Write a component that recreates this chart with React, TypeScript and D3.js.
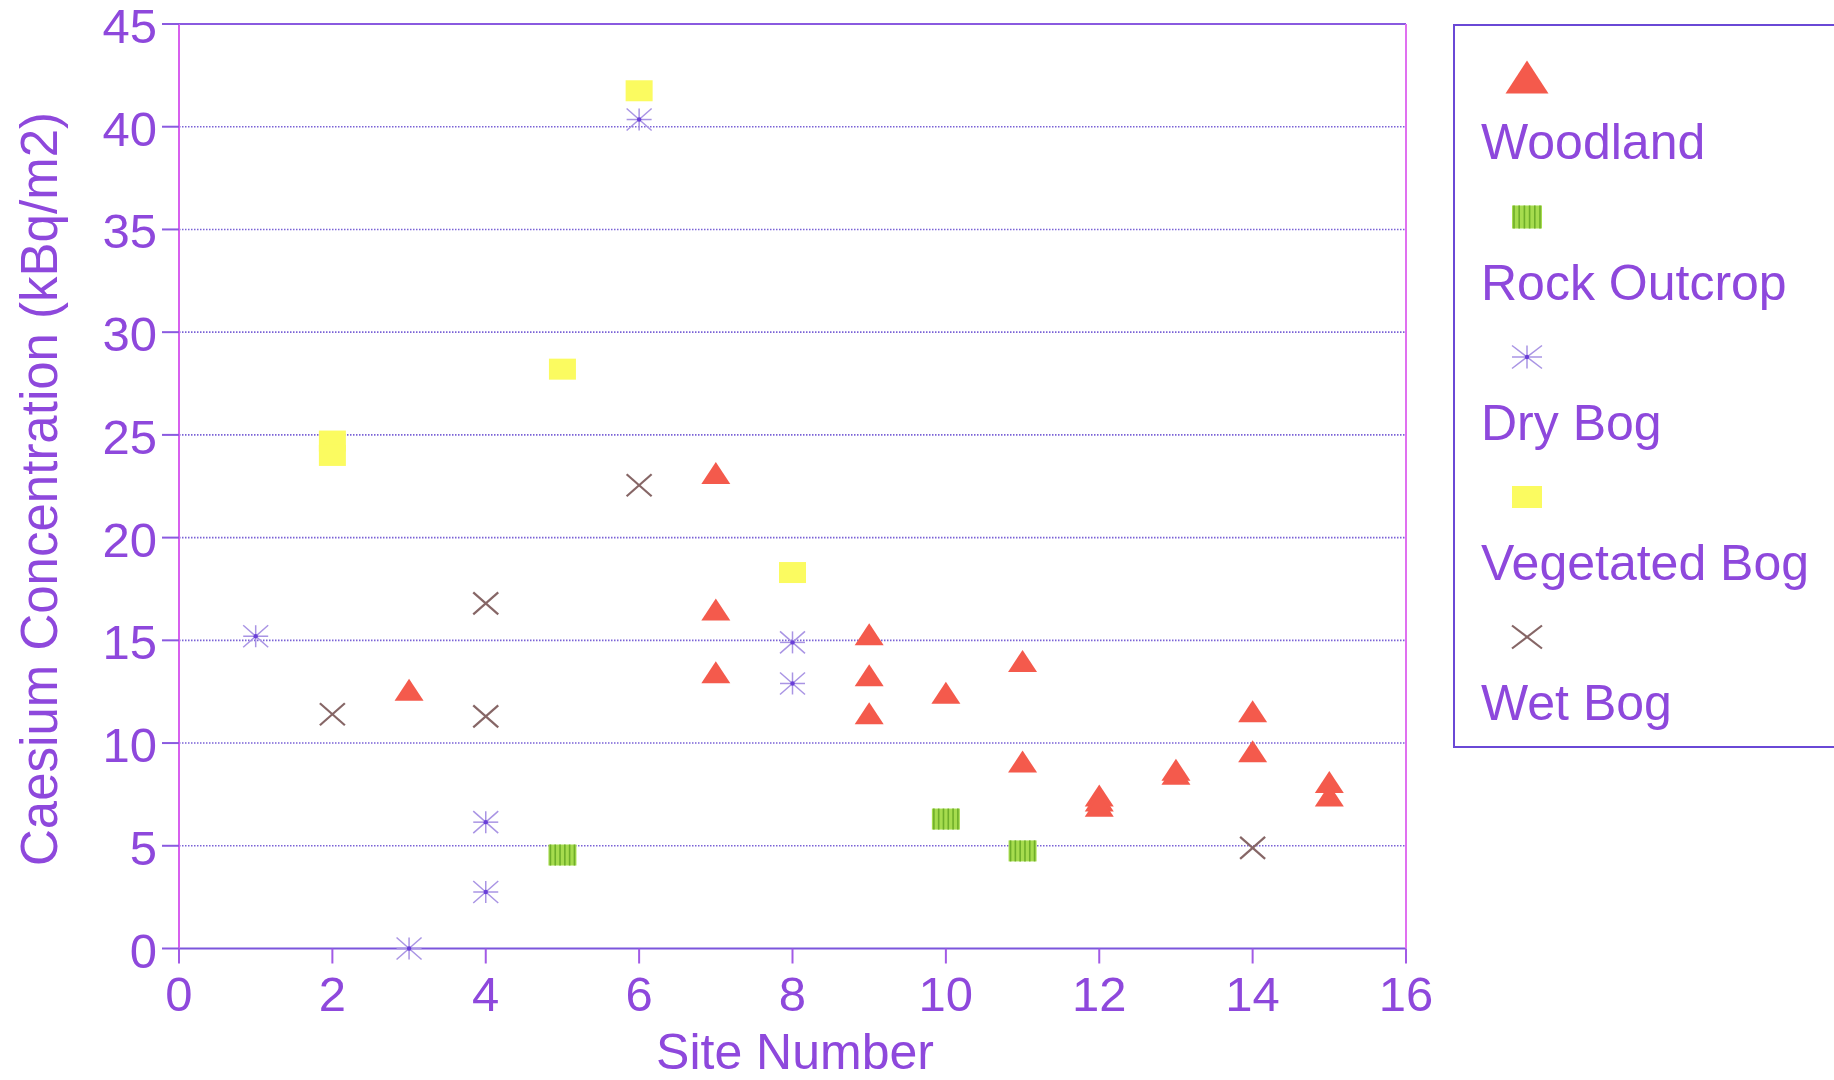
// @ts-nocheck

import React from 'react'
import * as d3 from 'd3'

// values: [site, concentration]
const woodland = [
  [3, 12.6],
  [7, 23.15], [7, 16.5], [7, 13.45],
  [9, 15.3], [9, 13.3], [9, 11.45],
  [10, 12.45],
  [11, 14.0], [11, 9.1],
  [12, 7.45], [12, 7.2], [12, 6.95],
  [13, 8.7], [13, 8.5],
  [14, 11.55], [14, 9.6],
  [15, 8.1], [15, 7.45],
]
const rockOutcrop = [[5, 4.55], [10, 6.3], [11, 4.75]]
const dryBog = [[1, 15.2], [3, 0], [4, 6.15], [4, 2.75], [6, 40.35], [8, 14.9], [8, 12.9]]
const vegetatedBog = [[2, 24.7], [2, 24.0], [5, 28.2], [6, 41.75], [8, 18.3]]
const wetBog = [[2, 11.4], [4, 16.8], [4, 11.3], [6, 22.55], [14, 4.9]]

const legendLabels = ['Woodland', 'Rock Outcrop', 'Dry Bog', 'Vegetated Bog', 'Wet Bog']
const xTicks = [0, 2, 4, 6, 8, 10, 12, 14, 16]
const yTicks = [0, 5, 10, 15, 20, 25, 30, 35, 40, 45]

const TEXT = '#8e48dc'
const FONT = '"Liberation Sans", Arial, Helvetica, sans-serif'

const Triangle = ({ x, y, w = 29, h = 22 }) => (
  <path d={`M${x},${y - h / 2}L${x + w / 2},${y + h / 2}L${x - w / 2},${y + h / 2}Z`} fill="#f45a4c" />
)

const Striped = ({ x, y, w = 28, h = 21 }) => {
  const stripes = d3.range(6).map((i) => x - w / 2 + 2 + i * ((w - 4) / 5))
  return (
    <g>
      <rect x={x - w / 2} y={y - h / 2} width={w} height={h} fill="#a6dc4e" />
      {stripes.map((sx, i) => (
        <line key={i} x1={sx} x2={sx} y1={y - h / 2} y2={y + h / 2} stroke="#6fae2a" strokeWidth={1.6} />
      ))}
    </g>
  )
}

const Star = ({ x, y, w = 25, h = 22 }) => (
  <g stroke="#a994e4" strokeWidth={1.5}>
    <line x1={x - w / 2} x2={x + w / 2} y1={y} y2={y} />
    <line x1={x} x2={x} y1={y - h / 2} y2={y + h / 2} />
    <line x1={x - w / 2} x2={x + w / 2} y1={y - h / 2} y2={y + h / 2} />
    <line x1={x - w / 2} x2={x + w / 2} y1={y + h / 2} y2={y - h / 2} />
    <circle cx={x} cy={y} r={2.2} fill="#6a3fd8" stroke="none" />
  </g>
)

const Square = ({ x, y, w = 27, h = 21 }) => (
  <rect x={x - w / 2} y={y - h / 2} width={w} height={h} fill="#fbfb60" />
)

const Cross = ({ x, y, w = 25, h = 22 }) => (
  <g stroke="#866666" strokeWidth={2.2}>
    <line x1={x - w / 2} x2={x + w / 2} y1={y - h / 2} y2={y + h / 2} />
    <line x1={x - w / 2} x2={x + w / 2} y1={y + h / 2} y2={y - h / 2} />
  </g>
)

const App = () => {
  const width = 1834
  const height = 1080
  const left = 179
  const right = 1406
  const top = 24
  const bottom = 948.5

  const xScale = d3.scaleLinear().domain([0, 16]).range([left, right])
  const yScale = d3.scaleLinear().domain([0, 45]).range([bottom, top])

  const legendX = 1454
  const legendMarkX = 1527
  const legendMarkY = [77, 217, 357, 497, 637]
  const legendTextY = [159, 300, 440, 580, 720]
  const legendMarks = [
    (y) => <Triangle x={legendMarkX} y={y} w={43} h={33} />,
    (y) => <Striped x={legendMarkX} y={y} w={30} h={23} />,
    (y) => <Star x={legendMarkX} y={y} w={30} h={23} />,
    (y) => <Square x={legendMarkX} y={y} w={30} h={22} />,
    (y) => <Cross x={legendMarkX} y={y} w={30} h={23} />,
  ]

  return (
    <svg
      width={width}
      height={height}
      style={{ position: 'absolute', left: 0, top: 0, background: '#fff' }}
      fontFamily={FONT}
    >
      {/* grid lines */}
      {yTicks.filter((t) => t > 0 && t < 45).map((t) => (
        <line
          key={t}
          x1={left}
          x2={right}
          y1={yScale(t)}
          y2={yScale(t)}
          stroke="#7a62d6"
          strokeWidth={1.6}
          strokeDasharray="1.5 1.5"
        />
      ))}

      {/* frame */}
      <line x1={left} x2={right} y1={top} y2={top} stroke="#8a5ae0" strokeWidth={2} />
      <line x1={left} x2={right} y1={bottom} y2={bottom} stroke="#7c56dc" strokeWidth={2.2} />
      <line x1={left} x2={left} y1={top} y2={bottom} stroke="#d760ee" strokeWidth={2} />
      <line x1={right} x2={right} y1={top} y2={bottom} stroke="#e070f0" strokeWidth={2} />

      {/* y axis */}
      {yTicks.map((t) => (
        <g key={t}>
          <line x1={left - 17} x2={left} y1={yScale(t)} y2={yScale(t)} stroke="#8a5ae0" strokeWidth={2} />
          <text x={157} y={yScale(t) + 19} textAnchor="end" fontSize={49} fill={TEXT}>
            {t}
          </text>
        </g>
      ))}

      {/* x axis */}
      {xTicks.map((t) => (
        <g key={t}>
          <line x1={xScale(t)} x2={xScale(t)} y1={bottom} y2={bottom + 15} stroke="#a25ae6" strokeWidth={2} />
          <text x={xScale(t)} y={1011} textAnchor="middle" fontSize={49} fill={TEXT}>
            {t}
          </text>
        </g>
      ))}

      <text x={795} y={1069} textAnchor="middle" fontSize={50} fill={TEXT}>
        Site Number
      </text>
      <text
        transform={`translate(57, 489) rotate(-90)`}
        textAnchor="middle"
        fontSize={51}
        fill={TEXT}
      >
        Caesium Concentration (kBq/m2)
      </text>

      {/* points */}
      {vegetatedBog.map(([s, v], i) => <Square key={'v' + i} x={xScale(s)} y={yScale(v)} />)}
      {rockOutcrop.map(([s, v], i) => <Striped key={'r' + i} x={xScale(s)} y={yScale(v)} />)}
      {wetBog.map(([s, v], i) => <Cross key={'w' + i} x={xScale(s)} y={yScale(v)} />)}
      {dryBog.map(([s, v], i) => <Star key={'d' + i} x={xScale(s)} y={yScale(v)} />)}
      {woodland.map(([s, v], i) => <Triangle key={'t' + i} x={xScale(s)} y={yScale(v)} />)}

      {/* legend */}
      <rect x={legendX} y={25} width={420} height={722} fill="none" stroke="#6a48d6" strokeWidth={2} />
      {legendLabels.map((label, i) => (
        <g key={label}>
          {legendMarks[i](legendMarkY[i])}
          <text x={1481} y={legendTextY[i]} fontSize={50} fill={TEXT}>
            {label}
          </text>
        </g>
      ))}
    </svg>
  )
}

export default App
